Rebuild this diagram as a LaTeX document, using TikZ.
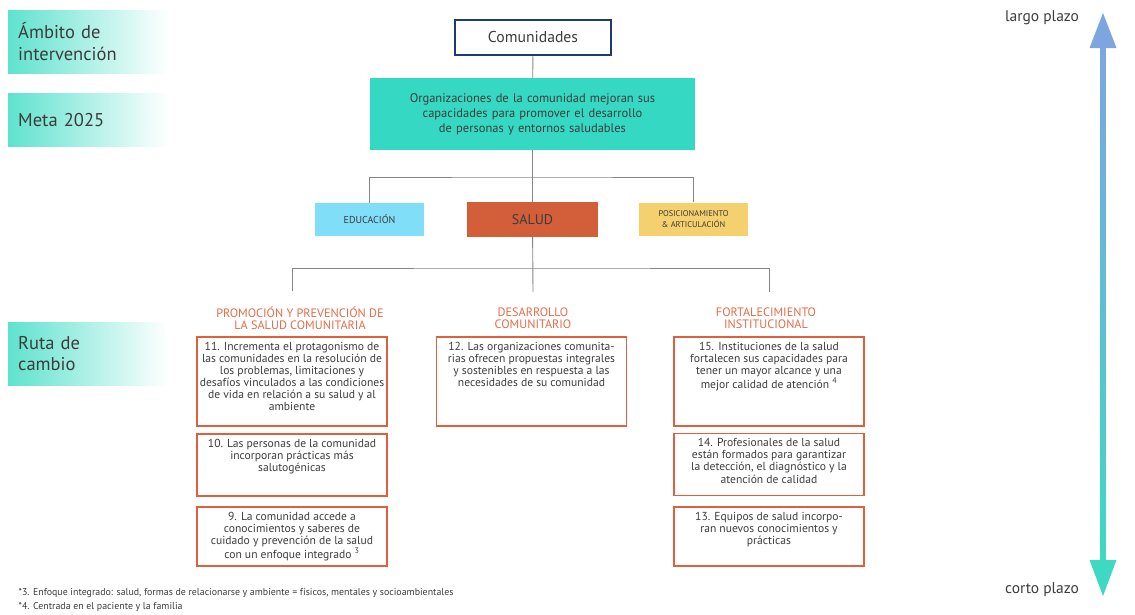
\documentclass[tikz,border=0pt]{standalone}
\usepackage{fontspec}
\setmainfont{PT Sans}
\usetikzlibrary{calc,positioning}
\definecolor{tealgoal}{HTML}{35D9C3}
\definecolor{tealband}{HTML}{5FE2CE}
\definecolor{navyline}{HTML}{1F3A73}
\definecolor{educol}{HTML}{80DEF8}
\definecolor{saludcol}{HTML}{D35E3A}
\definecolor{poscol}{HTML}{F5D06E}
\definecolor{routeline}{HTML}{E0603E}
\definecolor{routehead}{HTML}{E56B47}
\definecolor{textgray}{HTML}{3C3C3C}
\definecolor{linkgray}{HTML}{858585}
\definecolor{arrowblue}{HTML}{7DA6E0}
\definecolor{arrowteal}{HTML}{3DD9C3}
\newcommand{\boxtext}[2]{\parbox[t][#1][t]{182pt}{\centering\makebox[\linewidth]{\begin{tabular}[t]{@{}c@{}}#2\end{tabular}}}}
\tikzset{
  band/.style={anchor=north west, left color=tealband, right color=white, minimum width=157, text width=140, inner xsep=10, align=left, text=textgray, font=\fontsize{18.5}{21.5}\selectfont},
  field/.style={minimum height=33, text=textgray, align=center},
  routebox/.style={draw=routeline, line width=1.6, anchor=north, inner xsep=4, inner ysep=5, text=textgray, font=\fontsize{11.6}{12.1}\selectfont},
  routetitle/.style={text=routehead, align=center, font=\fontsize{12.2}{12.3}\selectfont},
  timetext/.style={text=textgray, font=\fontsize{15.5}{17}\selectfont},
  link/.style={draw=linkgray, line width=0.9}
}
\begin{document}
\begin{tikzpicture}[x=1pt, y=-1pt]
	\useasboundingbox (0,0) rectangle (1135,614);
	
	%%%%% left bands %%%%%
	\node[band, minimum height=63] (ambito) at (8,10) {Ámbito de\\intervención};
	\node[band, minimum height=53] (meta) at (8,93) {Meta 2025};
	\node[band, minimum height=63] (ruta) at (8,322) {Ruta de\\cambio};
	
	%%%%% top of the tree %%%%%
	\node[draw=navyline, line width=2.8, minimum width=156, minimum height=35, text=textgray, font=\fontsize{15.7}{18}\selectfont] (comunidades) at (533,37.5) {Comunidades};
	\node[fill=tealgoal, minimum width=325, minimum height=72, text width=300, align=center, text=textgray, font=\fontsize{12.5}{15}\selectfont] (goal) at (532.5,114) {Organizaciones de la comunidad mejoran sus\\capacidades para promover el desarrollo\\de personas y entornos saludables};
	
	\node[field, fill=educol, minimum width=109, font=\fontsize{10}{11}\selectfont] (edu) at (369.5,219.5) {EDUCACIÓN};
	\node[field, fill=saludcol, minimum width=131, minimum height=35, font=\fontsize{14}{16}\selectfont] (salud) at (532.5,219.5) {SALUD};
	\node[field, fill=poscol, minimum width=109, font=\fontsize{8.4}{11.5}\selectfont] (pos) at (693.5,219) {POSICIONAMIENTO\\\& ARTICULACIÓN};
	
	\coordinate (jA) at (533,177);
	\coordinate (jB) at (533,268);
	\draw[link] (comunidades) -- (goal);
	\draw[link] (goal) -- (salud);
	\draw[link] (edu.north) |- (jA) -| (pos.north);
	
	%%%%% routes of change %%%%%
	\node[routetitle] (hprom) at (300,318) {PROMOCIÓN Y PREVENCIÓN DE\\LA SALUD COMUNITARIA};
	\node[routetitle] (hdes) at (533,318) {DESARROLLO\\COMUNITARIO};
	\node[routetitle] (hfort) at (766,318) {FORTALECIMIENTO\\INSTITUCIONAL};
	
	\coordinate (tprom) at (292,291);
	\coordinate (tdes) at (533,292);
	\coordinate (tfort) at (769,292);
	\draw[link] (salud) -- (tdes);
	\draw[link] (tprom) |- (jB) -| (tfort);
	
	\node[routebox] (r11) at (292,336) {\boxtext{79pt}{11. Incrementa el protagonismo de\\las comunidades en la resolución de\\los problemas, limitaciones y\\desafíos vinculados a las condiciones\\de vida en relación a su salud y al\\ambiente}};
	\node[routebox] (r10) at (292,433) {\boxtext{52pt}{10. Las personas de la comunidad\\incorporan prácticas más\\salutogénicas}};
	\node[routebox] (r9) at (292,506) {\boxtext{49pt}{9. La comunidad accede a\\conocimientos y saberes de\\cuidado y prevención de la salud\\con un enfoque integrado~\textsuperscript{3}}};
	
	\node[routebox] (r12) at (531.5,336) {\boxtext{79pt}{12. Las organizaciones comunita-\\rias ofrecen propuestas integrales\\y sostenibles en respuesta a las\\necesidades de su comunidad}};
	
	\node[routebox] (r15) at (769,336) {\boxtext{79pt}{15. Instituciones de la salud\\fortalecen sus capacidades para\\tener un mayor alcance y una\\mejor calidad de atención~\textsuperscript{4}}};
	\node[routebox] (r14) at (769,432.5) {\boxtext{52pt}{14. Profesionales de la salud\\están formados para garantizar\\la detección, el diagnóstico y la\\atención de calidad}};
	\node[routebox] (r13) at (769,506) {\boxtext{49pt}{13. Equipos de salud incorpo-\\ran nuevos conocimientos y\\prácticas}};
	
	%%%%% time arrow %%%%%
	\shade[top color=arrowblue, bottom color=arrowteal] (1100.5,46) rectangle (1105.5,562);
	\fill[arrowblue] (1103,13) -- (1116.5,48) -- (1089.5,48) -- cycle;
	\fill[arrowteal] (1103,596) -- (1116.5,560) -- (1089.5,560) -- cycle;
	\node[timetext] (largo) at (1042,18) {largo plazo};
	\node[timetext] (corto) at (1042,590) {corto plazo};
	
	%%%%% notes %%%%%
	\node[anchor=west, text=textgray, font=\fontsize{9.9}{14}\selectfont, align=left] (notes) at (15,600) {*3. Enfoque integrado: salud, formas de relacionarse y ambiente = físicos, mentales y socioambientales\\*4. Centrada en el paciente y la familia};
\end{tikzpicture}
\end{document}
